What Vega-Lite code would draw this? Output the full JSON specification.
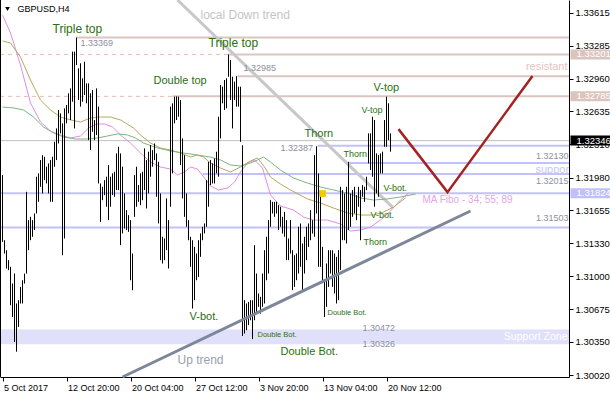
{
"$schema": "https://vega.github.io/schema/vega-lite/v6.json",
"width": 569, "height": 377,
"autosize": {"type": "none"},
"padding": {"left": 0, "top": 0, "right": 41, "bottom": 23},
"background": "white",
"config": {"view": {"stroke": null}, "font": "Liberation Sans"},
"datasets": {
"bars": [
{"t":0,"p":1.32004,"p2":1.31342},{"t":1,"p":1.31358,"p2":1.31226},{"t":2,"p":1.31259,"p2":1.31077},{"t":3,"p":1.31160,"p2":1.31061},{"t":4,"p":1.31094,"p2":1.30713},{"t":5,"p":1.30928,"p2":1.30597},{"t":6,"p":1.31027,"p2":1.30349},{"t":7,"p":1.30730,"p2":1.30252},{"t":8,"p":1.30763,"p2":1.30498},{"t":9,"p":1.30895,"p2":1.30730},
{"t":10,"p":1.30961,"p2":1.30730},{"t":11,"p":1.31027,"p2":1.30928},{"t":12,"p":1.31838,"p2":1.31027},{"t":13,"p":1.31557,"p2":1.31259},{"t":14,"p":1.31590,"p2":1.31358},{"t":15,"p":1.31557,"p2":1.31392},{"t":16,"p":1.31623,"p2":1.31458},{"t":17,"p":1.31988,"p2":1.31623},{"t":18,"p":1.32021,"p2":1.31739},{"t":19,"p":1.32153,"p2":1.31888},
{"t":20,"p":1.32202,"p2":1.31822},{"t":21,"p":1.32186,"p2":1.31954},{"t":22,"p":1.32087,"p2":1.31921},{"t":23,"p":1.32120,"p2":1.31822},{"t":24,"p":1.32153,"p2":1.31739},{"t":25,"p":1.32186,"p2":1.31739},{"t":26,"p":1.32335,"p2":1.32087},{"t":27,"p":1.32467,"p2":1.32153},{"t":28,"p":1.32650,"p2":1.32318},{"t":29,"p":1.32616,"p2":1.32418},
{"t":30,"p":1.32517,"p2":1.31209},{"t":31,"p":1.32666,"p2":1.31375},{"t":32,"p":1.32699,"p2":1.32517},{"t":33,"p":1.32815,"p2":1.32616},{"t":34,"p":1.32864,"p2":1.32550},{"t":35,"p":1.33229,"p2":1.32732},{"t":36,"p":1.33229,"p2":1.32467},{"t":37,"p":1.33369,"p2":1.33096},{"t":38,"p":1.33063,"p2":1.32749},{"t":39,"p":1.33113,"p2":1.32683},
{"t":40,"p":1.32964,"p2":1.32732},{"t":41,"p":1.33129,"p2":1.32798},{"t":42,"p":1.32914,"p2":1.32716},{"t":43,"p":1.32914,"p2":1.32351},{"t":44,"p":1.32815,"p2":1.32252},{"t":45,"p":1.32848,"p2":1.32434},{"t":46,"p":1.32550,"p2":1.32351},{"t":47,"p":1.32864,"p2":1.32401},{"t":48,"p":1.32683,"p2":1.31921},{"t":49,"p":1.31921,"p2":1.31540},
{"t":50,"p":1.31888,"p2":1.31755},{"t":51,"p":1.31954,"p2":1.31805},{"t":52,"p":1.31988,"p2":1.31690},{"t":53,"p":1.32103,"p2":1.31557},{"t":54,"p":1.31988,"p2":1.31690},{"t":55,"p":1.32021,"p2":1.31805},{"t":56,"p":1.32037,"p2":1.31789},{"t":57,"p":1.32219,"p2":1.31855},{"t":58,"p":1.32285,"p2":1.31855},{"t":59,"p":1.32219,"p2":1.31309},
{"t":60,"p":1.32087,"p2":1.31425},{"t":61,"p":1.31822,"p2":1.31474},{"t":62,"p":1.31656,"p2":1.31458},{"t":63,"p":1.31607,"p2":1.31441},{"t":64,"p":1.31557,"p2":1.30961},{"t":65,"p":1.31226,"p2":1.30862},{"t":66,"p":1.32004,"p2":1.31590},{"t":67,"p":1.32087,"p2":1.31690},{"t":68,"p":1.31905,"p2":1.31739},{"t":69,"p":1.32021,"p2":1.31706},
{"t":70,"p":1.32037,"p2":1.31755},{"t":71,"p":1.32269,"p2":1.31855},{"t":72,"p":1.32153,"p2":1.31673},{"t":73,"p":1.32236,"p2":1.31822},{"t":74,"p":1.32302,"p2":1.31988},{"t":75,"p":1.32252,"p2":1.32087},{"t":76,"p":1.32318,"p2":1.32153},{"t":77,"p":1.32219,"p2":1.31789},{"t":78,"p":1.32136,"p2":1.31524},{"t":79,"p":1.31822,"p2":1.31160},
{"t":80,"p":1.31392,"p2":1.31127},{"t":81,"p":1.31375,"p2":1.31160},{"t":82,"p":1.31772,"p2":1.31259},{"t":83,"p":1.31557,"p2":1.31077},{"t":84,"p":1.32683,"p2":1.31690},{"t":85,"p":1.32716,"p2":1.32021},{"t":86,"p":1.32782,"p2":1.32517},{"t":87,"p":1.32785,"p2":1.32550},{"t":88,"p":1.32782,"p2":1.32583},{"t":89,"p":1.32749,"p2":1.32103},
{"t":90,"p":1.32368,"p2":1.31772},{"t":91,"p":1.32202,"p2":1.31590},{"t":92,"p":1.31822,"p2":1.31491},{"t":93,"p":1.31557,"p2":1.31358},{"t":94,"p":1.31392,"p2":1.31094},{"t":95,"p":1.31358,"p2":1.30680},{"t":96,"p":1.31292,"p2":1.30763},{"t":97,"p":1.31226,"p2":1.30961},{"t":98,"p":1.31358,"p2":1.30994},{"t":99,"p":1.31425,"p2":1.31193},
{"t":100,"p":1.31491,"p2":1.31358},{"t":101,"p":1.31524,"p2":1.31425},{"t":102,"p":1.31954,"p2":1.31491},{"t":103,"p":1.32136,"p2":1.31690},{"t":104,"p":1.32153,"p2":1.31905},{"t":105,"p":1.32120,"p2":1.31921},{"t":106,"p":1.32169,"p2":1.31921},{"t":107,"p":1.32236,"p2":1.32021},{"t":108,"p":1.32583,"p2":1.31988},{"t":109,"p":1.32898,"p2":1.32368},
{"t":110,"p":1.32881,"p2":1.32716},{"t":111,"p":1.32947,"p2":1.32650},{"t":112,"p":1.32964,"p2":1.32666},{"t":113,"p":1.33201,"p2":1.32980},{"t":114,"p":1.33146,"p2":1.32749},{"t":115,"p":1.32980,"p2":1.32467},{"t":116,"p":1.32931,"p2":1.32749},{"t":117,"p":1.32985,"p2":1.32683},{"t":118,"p":1.32881,"p2":1.32683},{"t":119,"p":1.32881,"p2":1.32335},
{"t":120,"p":1.32300,"p2":1.30408},{"t":121,"p":1.30763,"p2":1.30432},{"t":122,"p":1.30730,"p2":1.30465},{"t":123,"p":1.30746,"p2":1.30515},{"t":124,"p":1.30763,"p2":1.30564},{"t":125,"p":1.30763,"p2":1.30377},{"t":126,"p":1.31309,"p2":1.30564},{"t":127,"p":1.31027,"p2":1.30630},{"t":128,"p":1.30829,"p2":1.30697},{"t":129,"p":1.30796,"p2":1.30630},
{"t":130,"p":1.31027,"p2":1.30697},{"t":131,"p":1.31259,"p2":1.30730},{"t":132,"p":1.31392,"p2":1.30961},{"t":133,"p":1.31557,"p2":1.31027},{"t":134,"p":1.31755,"p2":1.31491},{"t":135,"p":1.31739,"p2":1.31623},{"t":136,"p":1.31739,"p2":1.31590},{"t":137,"p":1.31739,"p2":1.31623},{"t":138,"p":1.31706,"p2":1.31458},{"t":139,"p":1.31690,"p2":1.31491},
{"t":140,"p":1.31590,"p2":1.31425},{"t":141,"p":1.31640,"p2":1.31392},{"t":142,"p":1.31557,"p2":1.31160},{"t":143,"p":1.31375,"p2":1.31160},{"t":144,"p":1.31557,"p2":1.31226},{"t":145,"p":1.31259,"p2":1.30862},{"t":146,"p":1.31209,"p2":1.30895},{"t":147,"p":1.31226,"p2":1.30961},{"t":148,"p":1.31491,"p2":1.31027},{"t":149,"p":1.31524,"p2":1.31094},
{"t":150,"p":1.31325,"p2":1.30862},{"t":151,"p":1.31392,"p2":1.31027},{"t":152,"p":1.31491,"p2":1.31160},{"t":153,"p":1.31524,"p2":1.31292},{"t":154,"p":1.31656,"p2":1.31358},{"t":155,"p":1.31557,"p2":1.31425},{"t":156,"p":1.32202,"p2":1.31392},{"t":157,"p":1.32290,"p2":1.31623},{"t":158,"p":1.32021,"p2":1.31094},{"t":159,"p":1.31822,"p2":1.31094},
{"t":160,"p":1.31292,"p2":1.30961},{"t":161,"p":1.30961,"p2":1.30597},{"t":162,"p":1.31127,"p2":1.30697},{"t":163,"p":1.31259,"p2":1.30895},{"t":164,"p":1.31259,"p2":1.31027},{"t":165,"p":1.31259,"p2":1.30895},{"t":166,"p":1.31226,"p2":1.30829},{"t":167,"p":1.31193,"p2":1.30730},{"t":168,"p":1.31259,"p2":1.30763},{"t":169,"p":1.31888,"p2":1.31061},
{"t":170,"p":1.31855,"p2":1.31358},{"t":171,"p":1.31822,"p2":1.31358},{"t":172,"p":1.31888,"p2":1.31325},{"t":173,"p":1.32136,"p2":1.31458},{"t":174,"p":1.31822,"p2":1.31491},{"t":175,"p":1.31855,"p2":1.31590},{"t":176,"p":1.31888,"p2":1.31623},{"t":177,"p":1.31805,"p2":1.31557},{"t":178,"p":1.31888,"p2":1.31690},{"t":179,"p":1.31855,"p2":1.31358},
{"t":180,"p":1.31905,"p2":1.31789},{"t":181,"p":1.31888,"p2":1.31739},{"t":182,"p":1.31988,"p2":1.31855},{"t":183,"p":1.32418,"p2":1.32120},{"t":184,"p":1.32418,"p2":1.32054},{"t":185,"p":1.32583,"p2":1.31988},{"t":186,"p":1.32550,"p2":1.31690},{"t":187,"p":1.32219,"p2":1.31822},{"t":188,"p":1.32202,"p2":1.31789},{"t":189,"p":1.32219,"p2":1.32021},
{"t":190,"p":1.32236,"p2":1.32021},{"t":191,"p":1.32550,"p2":1.32285},{"t":192,"p":1.32782,"p2":1.32285},{"t":193,"p":1.32716,"p2":1.32351},{"t":194,"p":1.32418,"p2":1.32236}
],
"ma": [
{"s":"a","t":0,"p":1.33592},{"s":"a","t":4,"p":1.33414},{"s":"a","t":9,"p":1.33096},{"s":"a","t":14,"p":1.32719},{"s":"a","t":19,"p":1.32531},{"s":"a","t":24,"p":1.32441},{"s":"a","t":29,"p":1.32402},{"s":"a","t":34,"p":1.32372},{"s":"a","t":39,"p":1.32392},{"s":"a","t":43,"p":1.32471},{"s":"a","t":47,"p":1.32511},{"s":"a","t":51,"p":1.32511},{"s":"a","t":55,"p":1.32481},{"s":"a","t":59,"p":1.32402},{"s":"a","t":64,"p":1.32322},{"s":"a","t":69,"p":1.32223},{"s":"a","t":74,"p":1.32134},{"s":"a","t":79,"p":1.32084},{"s":"a","t":84,"p":1.32064},{"s":"a","t":87.5,"p":1.32005},{"s":"a","t":91,"p":1.32035},{"s":"a","t":94,"p":1.32084},{"s":"a","t":97.5,"p":1.32064},{"s":"a","t":101,"p":1.31975},{"s":"a","t":104,"p":1.31896},{"s":"a","t":108,"p":1.31856},{"s":"a","t":112.5,"p":1.31876},{"s":"a","t":116,"p":1.31935},{"s":"a","t":119,"p":1.32035},{"s":"a","t":122.5,"p":1.32124},{"s":"a","t":126,"p":1.32154},{"s":"a","t":130,"p":1.32074},{"s":"a","t":134,"p":1.31807},{"s":"a","t":139,"p":1.31697},{"s":"a","t":145.5,"p":1.31658},{"s":"a","t":150.5,"p":1.31588},{"s":"a","t":155.5,"p":1.31558},{"s":"a","t":162.5,"p":1.31558},{"s":"a","t":169,"p":1.31519},{"s":"a","t":174,"p":1.31449},{"s":"a","t":179,"p":1.31459},{"s":"a","t":184,"p":1.31489},{"s":"a","t":189,"p":1.31558},{"s":"a","t":194,"p":1.31648},{"s":"a","t":199,"p":1.31757},{"s":"a","t":203,"p":1.31826},
{"s":"b","t":0,"p":1.33334},{"s":"b","t":4,"p":1.33314},{"s":"b","t":9,"p":1.33175},{"s":"b","t":14,"p":1.32947},{"s":"b","t":19,"p":1.32749},{"s":"b","t":24,"p":1.32650},{"s":"b","t":29,"p":1.32580},{"s":"b","t":34,"p":1.32551},{"s":"b","t":39,"p":1.32531},{"s":"b","t":44,"p":1.32570},{"s":"b","t":49,"p":1.32580},{"s":"b","t":54,"p":1.32580},{"s":"b","t":59,"p":1.32551},{"s":"b","t":65.5,"p":1.32471},{"s":"b","t":69,"p":1.32402},{"s":"b","t":74,"p":1.32322},{"s":"b","t":79,"p":1.32273},{"s":"b","t":84,"p":1.32253},{"s":"b","t":89,"p":1.32223},{"s":"b","t":94,"p":1.32183},{"s":"b","t":97.5,"p":1.32203},{"s":"b","t":100.5,"p":1.32183},{"s":"b","t":104,"p":1.32124},{"s":"b","t":109,"p":1.32074},{"s":"b","t":114,"p":1.32035},{"s":"b","t":119,"p":1.32084},{"s":"b","t":124,"p":1.32144},{"s":"b","t":127.5,"p":1.32174},{"s":"b","t":131,"p":1.32084},{"s":"b","t":134,"p":1.31985},{"s":"b","t":139,"p":1.31915},{"s":"b","t":144,"p":1.31856},{"s":"b","t":152.5,"p":1.31767},{"s":"b","t":159,"p":1.31727},{"s":"b","t":165.5,"p":1.31677},{"s":"b","t":172.5,"p":1.31628},{"s":"b","t":179,"p":1.31608},{"s":"b","t":185.5,"p":1.31608},{"s":"b","t":190.5,"p":1.31638},{"s":"b","t":195.5,"p":1.31687},{"s":"b","t":201.5,"p":1.31777},
{"s":"c","t":0,"p":1.32679},{"s":"c","t":5.5,"p":1.32670},{"s":"c","t":10.5,"p":1.32650},{"s":"c","t":15.5,"p":1.32580},{"s":"c","t":20.5,"p":1.32481},{"s":"c","t":25.5,"p":1.32422},{"s":"c","t":30.5,"p":1.32382},{"s":"c","t":36.5,"p":1.32362},{"s":"c","t":42.5,"p":1.32362},{"s":"c","t":47.5,"p":1.32372},{"s":"c","t":52.5,"p":1.32392},{"s":"c","t":57.5,"p":1.32412},{"s":"c","t":62.5,"p":1.32402},{"s":"c","t":66.5,"p":1.32372},{"s":"c","t":70.5,"p":1.32322},{"s":"c","t":77.5,"p":1.32273},{"s":"c","t":84,"p":1.32243},{"s":"c","t":90.5,"p":1.32223},{"s":"c","t":97.5,"p":1.32203},{"s":"c","t":104,"p":1.32183},{"s":"c","t":109,"p":1.32154},{"s":"c","t":114,"p":1.32104},{"s":"c","t":119,"p":1.32094},{"s":"c","t":124,"p":1.32124},{"s":"c","t":127.5,"p":1.32154},{"s":"c","t":130.5,"p":1.32183},{"s":"c","t":134,"p":1.32134},{"s":"c","t":139,"p":1.32054},{"s":"c","t":145.5,"p":1.31975},{"s":"c","t":152.5,"p":1.31925},{"s":"c","t":159,"p":1.31886},{"s":"c","t":165.5,"p":1.31856},{"s":"c","t":172.5,"p":1.31826},{"s":"c","t":179,"p":1.31777},{"s":"c","t":185.5,"p":1.31757},{"s":"c","t":192.5,"p":1.31767},{"s":"c","t":199,"p":1.31787},{"s":"c","t":206.5,"p":1.31816}
],
"hlines": [
{"k":"res","p":1.33369,"t":37,"t2":283.25},
{"k":"dash","p":1.33201,"t":-1.25,"t2":113},
{"k":"res","p":1.33201,"t":113,"t2":283.25},
{"k":"res","p":1.32985,"t":117.5,"t2":283.25},
{"k":"dash","p":1.32785,"t":-1.25,"t2":85},
{"k":"res","p":1.32785,"t":85,"t2":283.25},
{"k":"sup","p":1.32294,"t":157.5,"t2":283.25},
{"k":"sup","p":1.32124,"t":171.5,"t2":283.25},
{"k":"sup","p":1.32015,"t":100,"t2":283.25},
{"k":"sup","p":1.31824,"t":-1.25,"t2":283.25},
{"k":"sup","p":1.31485,"t":-1.25,"t2":283.25},
{"k":"cur","p":1.32346,"t":-1.25,"t2":283.25}
],
"zone": [{"t":-1.25,"t2":283.25,"p":1.30326,"p2":1.30472}],
"trends": [
{"k":"down","t":87.5,"p":1.33741,"t2":195,"p2":1.31686},
{"k":"up","t":60,"p":1.30001,"t2":234,"p2":1.31648}
],
"vpath": [
{"t":198,"p":1.32460},{"t":222.5,"p":1.31835},{"t":265,"p":1.32987}
],
"notes": [
{"k":"gXL","t":25,"p":1.33458,"txt":"Triple top"},
{"k":"gXL","t":103,"p":1.33314,"txt":"Triple top"},
{"k":"num","t":39,"p":1.33318,"txt":"1.33369"},
{"k":"num","t":120.5,"p":1.33066,"txt":"1.32985"},
{"k":"gL","t":75.5,"p":1.32937,"txt":"Double top"},
{"k":"gL","t":151,"p":1.32411,"txt":"Thorn"},
{"k":"num","t":139,"p":1.32272,"txt":"1.32387"},
{"k":"gS","t":170.5,"p":1.32213,"txt":"Thorn"},
{"k":"gL","t":185.5,"p":1.32868,"txt":"V-top"},
{"k":"gS","t":179.5,"p":1.32650,"txt":"V-top"},
{"k":"gS","t":190.5,"p":1.31876,"txt":"V-bot."},
{"k":"gS","t":184,"p":1.31608,"txt":"V-bot."},
{"k":"gS","t":180.5,"p":1.31340,"txt":"Thorn"},
{"k":"ma","t":210,"p":1.31757,"txt":"MA Fibo - 34; 55; 89"},
{"k":"gL","t":93.5,"p":1.30596,"txt":"V-bot."},
{"k":"gXS","t":127.5,"p":1.30417,"txt":"Double Bot."},
{"k":"gXS","t":162.5,"p":1.30635,"txt":"Double Bot."},
{"k":"gL","t":139,"p":1.30249,"txt":"Double Bot."},
{"k":"num","t":180,"p":1.30487,"txt":"1.30472"},
{"k":"num","t":180,"p":1.30328,"txt":"1.30326"},
{"k":"sup","t":266.5,"p":1.32058,"txt":"support"},
{"k":"down","t":99,"p":1.33592,"txt":"local Down trend"},
{"k":"up","t":87.5,"p":1.30169,"txt":"Up trend"},
{"k":"title","t":7.5,"p":1.33652,"txt":"GBPUSD,H4"}
],
"rnotes": [
{"k":"zone","t":282.5,"p":1.30398,"txt":"Support Zone"},
{"k":"num","t":283,"p":1.31578,"txt":"1.31503"},
{"k":"num","t":283,"p":1.32193,"txt":"1.32130"},
{"k":"num","t":283,"p":1.31950,"txt":"1.32015"},
{"k":"res","t":282.5,"p":1.33076,"txt":"resistant"}
],
"tags": [
{"k":"pink","p":1.33201,"txt":"1.33201"},
{"k":"pink","p":1.32785,"txt":"1.32785"},
{"k":"black","p":1.32346,"txt":"1.32346"},
{"k":"blue","p":1.31824,"txt":"1.31824"}
],
"marks": [{"t":160,"p":1.31821}],
"arrow": [{"t":2.5,"p":1.33652}]
},
"resolve": {"scale": {"color": "independent"}},
"layer": [
{
"encoding": {
 "x": {"field":"t","type":"quantitative","scale":{"domain":[-1.25,283.25],"nice":false,"zero":false},
   "axis":{"values":[0,32,64,96,128,160,192],"labelExpr":"['5 Oct 2017','12 Oct 20:00','20 Oct 04:00','27 Oct 12:00','3 Nov 20:00','13 Nov 04:00','20 Nov 12:00'][round(datum.value/32)]","labelAlign":"left","labelBaseline":"top","labelPadding":2,"labelOffset":1,"tickSize":4,"tickColor":"#000000","domainColor":"#000000","labelColor":"#000000","labelFontSize":9,"grid":false,"title":null,"labelOverlap":false,"labelFlush":false,"labelBound":false}},
 "y": {"field":"p","type":"quantitative","scale":{"domain":[1.30001,1.33741],"nice":false,"zero":false},
   "axis":{"orient":"right","values":[1.33615,1.33285,1.3296,1.32635,1.3231,1.3198,1.31655,1.3133,1.31,1.30675,1.3035,1.3002],"format":".5f","tickSize":4,"labelPadding":2,"tickColor":"#000000","domainColor":"#000000","labelColor":"#000000","labelFontSize":9.5,"grid":false,"title":null,"labelOverlap":false,"labelFlush":false,"labelBound":false}}
},
"resolve": {"scale": {"color": "independent"}},
"layer": [
{"data":{"name":"zone"},"mark":{"type":"rect","color":"#e0e0fa"},
 "encoding":{"x2":{"field":"t2"},"y2":{"field":"p2"}}},
{"data":{"name":"hlines"},"transform":[{"filter":"datum.k==='dash'"}],"mark":{"type":"rule","color":"#e8bcb2","strokeWidth":1,"strokeDash":[4,4]},
 "encoding":{"x2":{"field":"t2"}}},
{"data":{"name":"hlines"},"transform":[{"filter":"datum.k==='res'"}],"mark":{"type":"rule","color":"#dcc5c0","strokeWidth":2},
 "encoding":{"x2":{"field":"t2"}}},
{"data":{"name":"hlines"},"transform":[{"filter":"datum.k==='sup'"}],"mark":{"type":"rule","color":"#c2c2f8","strokeWidth":2},
 "encoding":{"x2":{"field":"t2"}}},
{"data":{"name":"hlines"},"transform":[{"filter":"datum.k==='cur'"}],"mark":{"type":"rule","color":"#c0c0c0","strokeWidth":1},
 "encoding":{"x2":{"field":"t2"}}},
{"data":{"name":"trends"},"transform":[{"filter":"datum.k==='down'"}],"mark":{"type":"rule","color":"#c8c8c8","strokeWidth":3},
 "encoding":{"x2":{"field":"t2"},"y2":{"field":"p2"}}},
{"data":{"name":"ma"},"mark":{"type":"line","strokeWidth":1},
 "encoding":{"color":{"field":"s","type":"nominal","scale":{"domain":["a","b","c"],"range":["#e08ee0","#b4aa5a","#80b480"]},"legend":null}}},
{"data":{"name":"bars"},"mark":{"type":"rule","color":"#000000","strokeWidth":1},
 "encoding":{"y2":{"field":"p2"}}},
{"data":{"name":"trends"},"transform":[{"filter":"datum.k==='up'"}],"mark":{"type":"rule","color":"#7d8799","strokeWidth":3},
 "encoding":{"x2":{"field":"t2"},"y2":{"field":"p2"}}},
{"data":{"name":"vpath"},"mark":{"type":"line","color":"#a52222","strokeWidth":2.5},"encoding":{}},
{"data":{"name":"marks"},"mark":{"type":"point","shape":"square","filled":true,"color":"#f5c800","size":45,"opacity":1}},
{"data":{"name":"arrow"},"mark":{"type":"point","shape":"triangle-down","filled":true,"color":"#000000","size":22,"opacity":1}},
{"data":{"name":"notes"},"transform":[{"filter":"indexof(['gXL','down','up'], datum.k) >= 0"}],"mark":{"type":"text","align":"left","baseline":"middle","fontSize":12},
 "encoding":{"text":{"field":"txt"},"color":{"field":"k","type":"nominal","scale":{"domain":["gXL","down","up"],"range":["#2a7010","#c4c4c4","#98a0b0"]},"legend":null}}},
{"data":{"name":"notes"},"transform":[{"filter":"indexof(['gL','sup'], datum.k) >= 0"}],"mark":{"type":"text","align":"left","baseline":"middle","fontSize":11,"clip":true},
 "encoding":{"text":{"field":"txt"},"color":{"field":"k","type":"nominal","scale":{"domain":["gL","sup"],"range":["#2a7010","#c8c6f4"]},"legend":null}}},
{"data":{"name":"notes"},"transform":[{"filter":"datum.k==='ma'"}],"mark":{"type":"text","align":"left","baseline":"middle","fontSize":10,"color":"#e4a6e4"},
 "encoding":{"text":{"field":"txt"}}},
{"data":{"name":"notes"},"transform":[{"filter":"indexof(['gS','num','title'], datum.k) >= 0"}],"mark":{"type":"text","align":"left","baseline":"middle","fontSize":9},
 "encoding":{"text":{"field":"txt"},"color":{"field":"k","type":"nominal","scale":{"domain":["gS","num","title"],"range":["#2a7010","#8a90a0","#000000"]},"legend":null}}},
{"data":{"name":"notes"},"transform":[{"filter":"datum.k==='gXS'"}],"mark":{"type":"text","align":"left","baseline":"middle","fontSize":7.5,"color":"#2a7010"},
 "encoding":{"text":{"field":"txt"}}},
{"data":{"name":"rnotes"},"transform":[{"filter":"datum.k==='zone'"}],"mark":{"type":"text","align":"right","baseline":"middle","fontSize":10.5,"color":"#ffffff"},
 "encoding":{"text":{"field":"txt"}}},
{"data":{"name":"rnotes"},"transform":[{"filter":"datum.k==='num'"}],"mark":{"type":"text","align":"right","baseline":"middle","fontSize":9,"color":"#8a90a0"},
 "encoding":{"text":{"field":"txt"}}},
{"data":{"name":"rnotes"},"transform":[{"filter":"datum.k==='res'"}],"mark":{"type":"text","align":"right","baseline":"middle","fontSize":11,"color":"#e2c4c0"},
 "encoding":{"text":{"field":"txt"}}}
]
},
{"data":{"name":"tags"},"mark":{"type":"tick","orient":"horizontal","size":40,"thickness":10,"opacity":1},
 "encoding":{
 "x":{"datum":294,"type":"quantitative","scale":{"domain":[-1.25,283.25],"nice":false,"zero":false},
   "axis":{"values":[0,32,64,96,128,160,192],"labelExpr":"['5 Oct 2017','12 Oct 20:00','20 Oct 04:00','27 Oct 12:00','3 Nov 20:00','13 Nov 04:00','20 Nov 12:00'][round(datum.value/32)]","labelAlign":"left","labelBaseline":"top","labelPadding":2,"labelOffset":1,"tickSize":4,"tickColor":"#000000","domainColor":"#000000","labelColor":"#000000","labelFontSize":9,"grid":false,"title":null,"labelOverlap":false,"labelFlush":false,"labelBound":false}},
 "y":{"field":"p","type":"quantitative","scale":{"domain":[1.30001,1.33741],"nice":false,"zero":false},
   "axis":{"orient":"right","values":[1.33615,1.33285,1.3296,1.32635,1.3231,1.3198,1.31655,1.3133,1.31,1.30675,1.3035,1.3002],"format":".5f","tickSize":4,"labelPadding":2,"tickColor":"#000000","domainColor":"#000000","labelColor":"#000000","labelFontSize":9.5,"grid":false,"title":null,"labelOverlap":false,"labelFlush":false,"labelBound":false}},
 "color":{"field":"k","type":"nominal","scale":{"domain":["pink","black","blue"],"range":["#dcc4be","#000000","#c0c0f8"]},"legend":null}}},
{"data":{"name":"tags"},"mark":{"type":"text","align":"left","baseline":"middle","color":"#ffffff","fontSize":9.5},
 "encoding":{
 "x":{"datum":287,"type":"quantitative","scale":{"domain":[-1.25,283.25],"nice":false,"zero":false},
   "axis":{"values":[0,32,64,96,128,160,192],"labelExpr":"['5 Oct 2017','12 Oct 20:00','20 Oct 04:00','27 Oct 12:00','3 Nov 20:00','13 Nov 04:00','20 Nov 12:00'][round(datum.value/32)]","labelAlign":"left","labelBaseline":"top","labelPadding":2,"labelOffset":1,"tickSize":4,"tickColor":"#000000","domainColor":"#000000","labelColor":"#000000","labelFontSize":9,"grid":false,"title":null,"labelOverlap":false,"labelFlush":false,"labelBound":false}},
 "y":{"field":"p","type":"quantitative","scale":{"domain":[1.30001,1.33741],"nice":false,"zero":false},
   "axis":{"orient":"right","values":[1.33615,1.33285,1.3296,1.32635,1.3231,1.3198,1.31655,1.3133,1.31,1.30675,1.3035,1.3002],"format":".5f","tickSize":4,"labelPadding":2,"tickColor":"#000000","domainColor":"#000000","labelColor":"#000000","labelFontSize":9.5,"grid":false,"title":null,"labelOverlap":false,"labelFlush":false,"labelBound":false}},
 "text":{"field":"txt"}}},
{"data":{"values":[{}]},"mark":{"type":"rule","color":"#000000","strokeWidth":2},
 "encoding":{
 "x":{"datum":-1.25,"type":"quantitative","scale":{"domain":[-1.25,283.25],"nice":false,"zero":false},
   "axis":{"values":[0,32,64,96,128,160,192],"labelExpr":"['5 Oct 2017','12 Oct 20:00','20 Oct 04:00','27 Oct 12:00','3 Nov 20:00','13 Nov 04:00','20 Nov 12:00'][round(datum.value/32)]","labelAlign":"left","labelBaseline":"top","labelPadding":2,"labelOffset":1,"tickSize":4,"tickColor":"#000000","domainColor":"#000000","labelColor":"#000000","labelFontSize":9,"grid":false,"title":null,"labelOverlap":false,"labelFlush":false,"labelBound":false}},
 "y":{"datum":1.30001,"type":"quantitative","scale":{"domain":[1.30001,1.33741],"nice":false,"zero":false},
   "axis":{"orient":"right","values":[1.33615,1.33285,1.3296,1.32635,1.3231,1.3198,1.31655,1.3133,1.31,1.30675,1.3035,1.3002],"format":".5f","tickSize":4,"labelPadding":2,"tickColor":"#000000","domainColor":"#000000","labelColor":"#000000","labelFontSize":9.5,"grid":false,"title":null,"labelOverlap":false,"labelFlush":false,"labelBound":false}},
 "y2":{"datum":1.33741}}}
]
}
